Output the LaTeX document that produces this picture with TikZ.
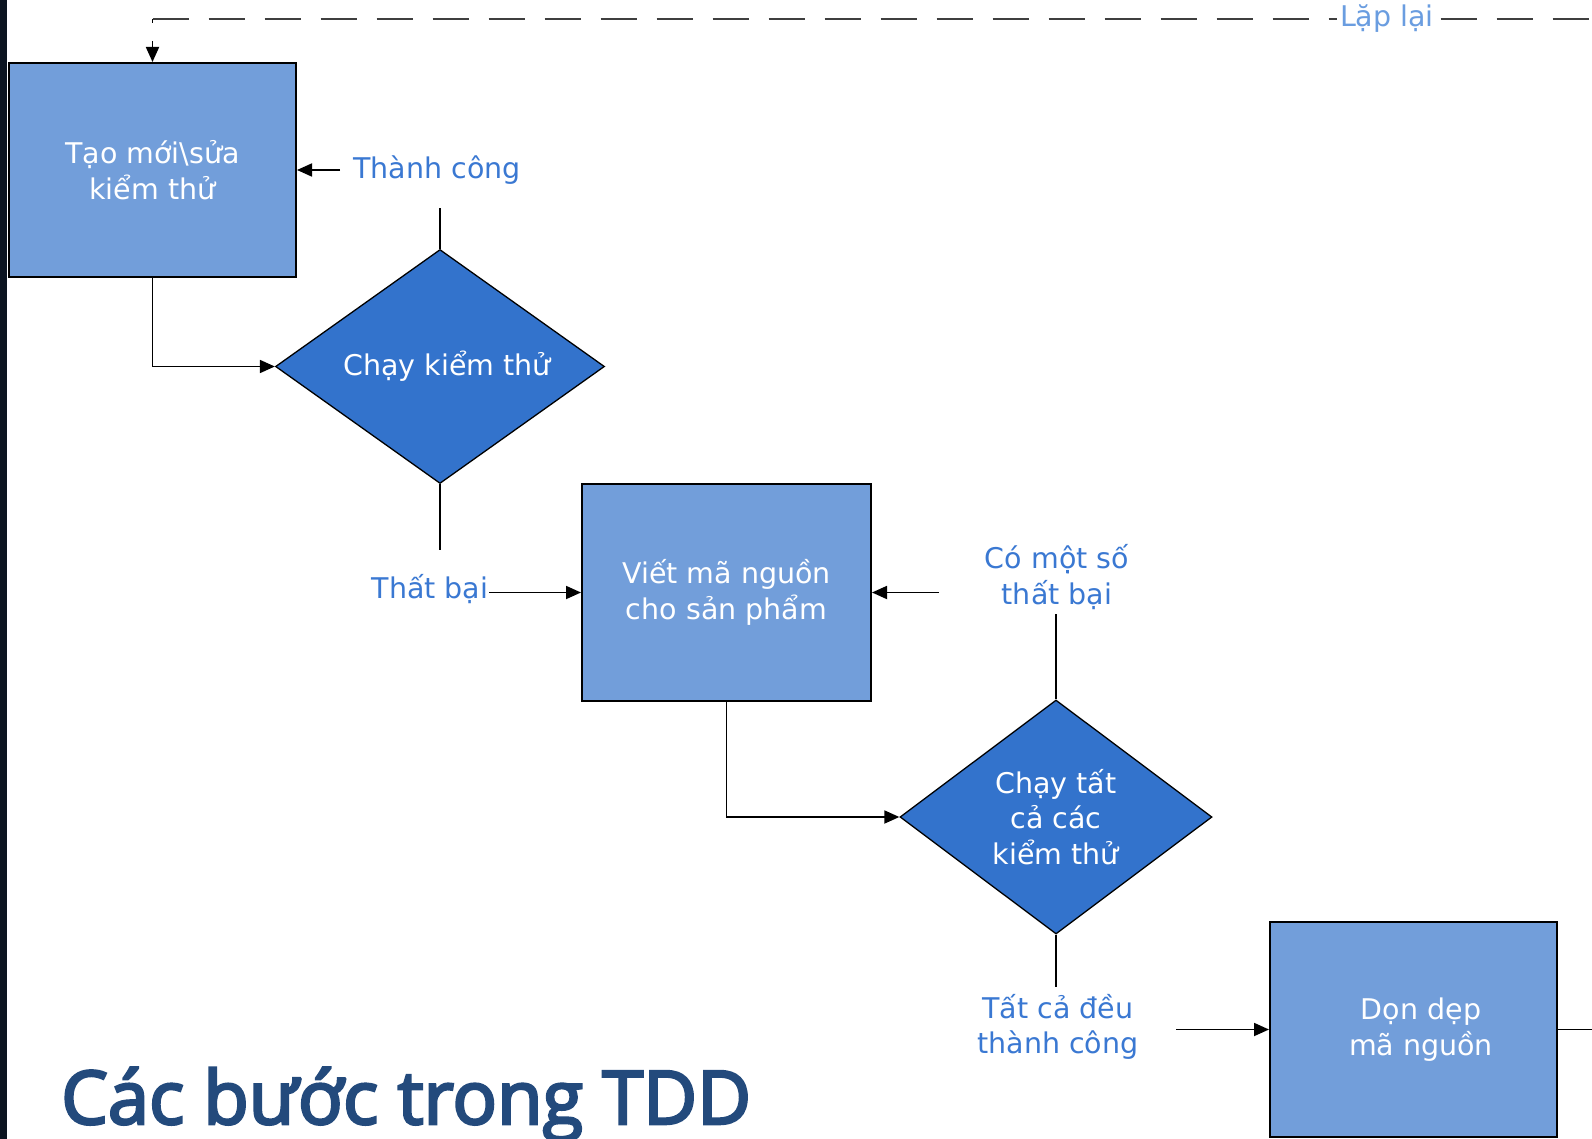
\documentclass[tikz,border=0pt]{standalone}
\usepackage{fontspec}
\setmainfont{DejaVu Sans}
\newfontfamily\titlefont{Open Sans}[FakeBold=3.5]
\usetikzlibrary{shapes.geometric,arrows.meta}
\definecolor{boxfill}{HTML}{729EDA}
\definecolor{diafill}{HTML}{3373CC}
\definecolor{lblblue}{HTML}{3A78D2}
\definecolor{lapblue}{HTML}{6A9DE0}
\definecolor{titleblue}{HTML}{234A7C}
\definecolor{sidebar}{HTML}{0B1420}
\definecolor{dashgray}{HTML}{3F3F3F}
\tikzset{
  base/.style={font=\fontsize{28.5}{35.5}\selectfont, align=center, inner sep=0pt},
  procbox/.style={base, rectangle, draw=black, line width=2pt, fill=boxfill, text=white},
  decision/.style={base, diamond, draw=black, line width=1.3pt, fill=diafill, text=white},
  lbl/.style={base, text=lblblue},
  conn/.style={line width=1.8pt, black},
  tip/.style={-{Triangle[length=15pt,width=13pt]}},
  arr/.style={conn, tip},
  dashline/.style={line width=2.8pt, dashgray},
}
\begin{document}
\begin{tikzpicture}[x=1pt,y=-1pt]
\useasboundingbox (0,0) rectangle (1592,1139);
\fill[sidebar] (0,0) rectangle (7,1139);

\node[procbox, minimum width=287pt, minimum height=214pt] (box1) at (152.5,170) {Tạo mới\textbackslash sửa\\kiểm thử};
\node[decision, minimum width=329pt, minimum height=234pt] (d1) at (440,366.5) {\makebox[150pt][c]{\hspace*{14pt}Chạy kiểm thử}};
\node[procbox, minimum width=289pt, minimum height=217pt] (box2) at (726.5,592.5) {Viết mã nguồn\\cho sản phẩm};
\node[decision, minimum width=312pt, minimum height=234pt] (d2) at (1056,817) {Chạy tất\\cả các\\kiểm thử};
\node[procbox, minimum width=287pt, minimum height=215pt] (box3) at (1413.5,1029.5) {\hspace*{15pt}Dọn dẹp\\\hspace*{15pt}mã nguồn};

\node[lbl] (thanh) at (437,170) {Thành công};
\node[lbl] (thatbai) at (430,589) {Thất bại};
\node[lbl] (comot) at (1057,577) {Có một số\\thất bại};
\node[lbl] (tatca) at (1058,1027) {Tất cả đều\\thành công};

\coordinate (c1) at (440,208);
\coordinate (c2) at (440,550);
\coordinate (c3) at (1056,614);
\coordinate (c4) at (1056,987);
\coordinate (a1) at (340,170);
\coordinate (a2) at (489,592.5);
\coordinate (a3) at (939,592.5);
\coordinate (a4) at (1176,1029.5);
\coordinate (rend) at (1592,1029.5);
\coordinate (corner) at (152.5,19);
\coordinate (topend) at (1592,19);

% connectors
\draw[arr] (box1.south) |- (d1.west);
\draw[arr] (box2.south) |- (d2.west);
\draw[conn] (d1.north) -- (c1);
\draw[arr] (a1) -- (box1.east);
\draw[conn] (d1.south) -- (c2);
\draw[arr] (a2) -- (box2.west);
\draw[conn] (d2.north) -- (c3);
\draw[arr] (a3) -- (box2.east);
\draw[conn] (d2.south) -- (c4);
\draw[arr] (a4) -- (box3.west);
\draw[conn] (box3.east) -- (rend);

% repeat loop
\draw[dashline, dash pattern=on 36pt off 20pt] (corner) -- (topend);
\draw[line width=1.8pt, black, dash pattern=on 4pt off 18pt on 40pt, tip] (corner) -- (box1.north);
\node[base, text=lapblue, fill=white, inner xsep=3pt, inner ysep=2pt] (lap) at (1387,19) {Lặp lại};

\node[anchor=base west, inner sep=0pt, text=titleblue, font=\titlefont\fontsize{74}{80}\selectfont] (title) at (61,1124) {Các bước trong TDD};
\end{tikzpicture}
\end{document}
